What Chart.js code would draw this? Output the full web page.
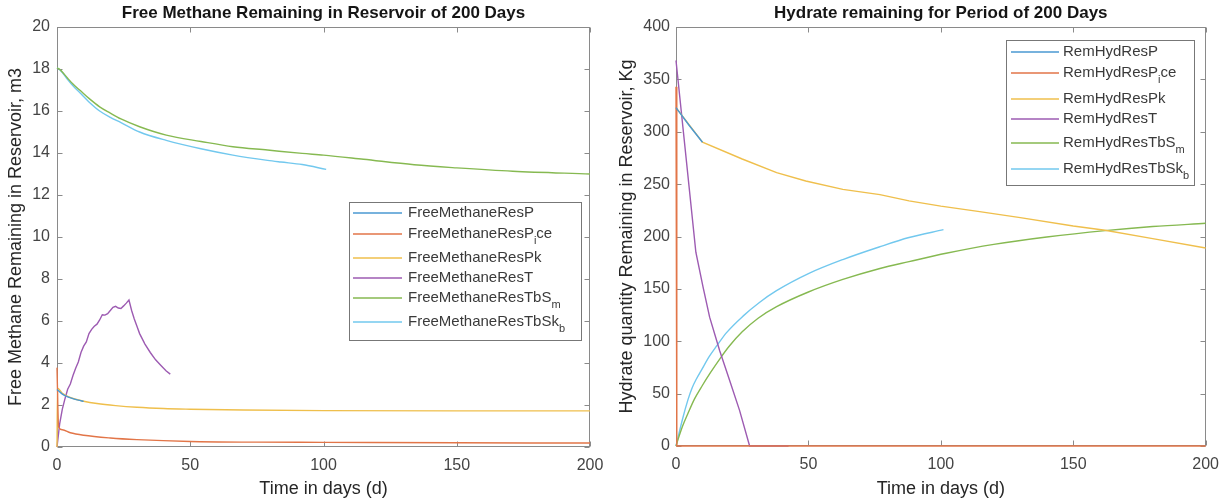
<!DOCTYPE html>
<html>
<head>
<meta charset="utf-8">
<title>Free methane and hydrate remaining over 200 days</title>
<script src="https://cdn.jsdelivr.net/npm/chart.js@4.4.1/dist/chart.umd.min.js"></script>
<style>
  html, body { margin: 0; padding: 0; background: #ffffff; }
  #wrap { position: relative; width: 1228px; height: 500px; overflow: hidden; }
  .pane { position: absolute; top: 0; width: 614px; height: 500px; }
  canvas { display: block; }
</style>
</head>
<body>
<div id="wrap">
  <div class="pane" style="left:0"><canvas id="freeChart" width="614" height="500"></canvas></div>
  <div class="pane" style="left:614px"><canvas id="hydChart" width="614" height="500"></canvas></div>
</div>
<script>
// ---- tick values ----
const dayTicks  = [0, 50, 100, 150, 200];
const freeTicks = [0, 2, 4, 6, 8, 10, 12, 14, 16, 18, 20];
const hydTicks  = [0, 50, 100, 150, 200, 250, 300, 350, 400];

// ---- free methane remaining in reservoir (m3) ----
const freeP_days = [0, 2, 4, 6, 8, 10];
const freeP_vals = [2.74, 2.52, 2.39, 2.3, 2.23, 2.17];

const freePice_days = [0, 0.6, 2, 5, 10, 20, 30, 50, 75, 100, 150, 200];
const freePice_vals = [3.78, 0.95, 0.82, 0.68, 0.56, 0.43, 0.35, 0.26, 0.23, 0.22, 0.2, 0.19];

const freePk_days = [0, 0.2, 2, 4, 6, 10, 15, 22, 30, 40, 50, 70, 100, 150, 200];
const freePk_vals = [0, 2.8, 2.56, 2.41, 2.31, 2.18, 2.07, 1.97, 1.89, 1.83, 1.8, 1.76, 1.73, 1.72, 1.72];

const freeT_days = [0, 1, 2, 3, 4, 5, 6, 7, 8, 9, 10, 11, 12, 13, 14, 15, 16, 17, 18, 19, 20, 21, 22, 23, 24, 25, 26, 27, 28, 29, 30, 31, 33, 35, 37, 39, 41, 42.5];
const freeT_vals = [0, 1.1, 1.8, 2.3, 2.75, 3.0, 3.4, 3.75, 4.05, 4.5, 4.8, 5.0, 5.4, 5.6, 5.75, 5.85, 6.05, 6.3, 6.28, 6.35, 6.5, 6.65, 6.7, 6.62, 6.6, 6.72, 6.85, 7.0, 6.5, 6.1, 5.75, 5.4, 4.9, 4.5, 4.15, 3.88, 3.62, 3.47];

const freeTbSm_days = [0, 1, 2, 4, 6, 8.5, 12, 16, 20, 24, 31, 41, 54, 66, 79, 92, 100, 115, 134, 150, 171, 200];
const freeTbSm_vals = [18.05, 17.98, 17.86, 17.56, 17.28, 17.0, 16.6, 16.2, 15.9, 15.62, 15.25, 14.85, 14.55, 14.3, 14.14, 13.98, 13.9, 13.7, 13.44, 13.29, 13.13, 13.0];

const freeTbSkb_days = [0, 1, 2, 4, 6, 8.5, 12, 16, 20, 24, 31, 41, 54, 66, 79, 84, 92, 101];
const freeTbSkb_vals = [18.05, 17.97, 17.83, 17.5, 17.2, 16.88, 16.43, 16.0, 15.7, 15.45, 15.0, 14.6, 14.2, 13.9, 13.65, 13.57, 13.45, 13.22];

// ---- hydrate remaining in reservoir (kg) ----
const hydP_days = [0, 5, 10];
const hydP_vals = [323, 306, 290];

const hydPice_days = [0, 0.3, 200];
const hydPice_vals = [343, 0, 0];

const hydPk_days = [0, 10, 25, 38, 49, 63, 77, 88, 100, 114, 130, 150, 162, 180, 200];
const hydPk_vals = [323, 290, 274, 261, 253, 245, 240, 234, 229, 224, 218, 210, 206, 198, 189];

const hydT_days = [0, 7.5, 10.2, 12.7, 16.5, 20.2, 24, 27.8, 42.5];
const hydT_vals = [368, 185, 152, 123, 91, 63, 34, 0, 0];

const hydTbSm_days = [0, 1, 2.5, 4.5, 7, 10, 13, 16.5, 20, 25, 31, 38, 50, 63, 77, 88, 102, 120, 140, 162, 180, 200];
const hydTbSm_vals = [0, 8, 19, 31, 45, 58, 70, 83, 95, 109, 122, 133, 147, 159, 169.5, 176, 184, 192.5, 199.5, 205.6, 209.5, 212.6];

const hydTbSkb_days = [0, 2.5, 4.5, 6, 7.7, 9.5, 12.7, 15.5, 19, 25.3, 31.5, 37.8, 50.4, 63, 76.7, 88, 101];
const hydTbSkb_vals = [0, 26, 44, 55, 64, 72, 86, 96, 108, 124, 137, 148, 165, 178, 190, 199, 206.5];

// ---- appearance ----
const FONT = '"Liberation Sans", Arial, Helvetica, sans-serif';
const C = {
  blue:   '#4a98d2',
  orange: '#e27548',
  yellow: '#efbf4c',
  purple: '#9d5bb2',
  green:  '#86b951',
  cyan:   '#72c8ee'
};

function pts(xs, ys) { return xs.map((d, i) => ({ x: d, y: ys[i] })); }

function series(label, xs, ys, color, smooth) {
  return {
    label: label,
    data: pts(xs, ys),
    borderColor: color,
    backgroundColor: color,
    borderWidth: 1.4,
    pointRadius: 0,
    fill: false,
    clip: false,
    cubicInterpolationMode: smooth ? 'monotone' : 'default',
    tension: 0
  };
}

// Axes box with inward ticks on all four sides
const frame = {
  id: 'frame',
  beforeDatasetsDraw(chart) {
    const { ctx, chartArea: a, scales: { x, y } } = chart;
    ctx.save();
    ctx.strokeStyle = '#8a8a8a';
    ctx.lineWidth = 1;
    const L = Math.round(a.left) + 0.5, R = Math.round(a.right) - 0.5;
    const T = Math.round(a.top) + 0.5, B = Math.round(a.bottom) - 0.5;
    ctx.strokeRect(L, T, R - L, B - T);
    ctx.beginPath();
    x.ticks.forEach(t => {
      const px = Math.round(x.getPixelForValue(t.value)) + 0.5;
      ctx.moveTo(px, B); ctx.lineTo(px, B - 5);
      ctx.moveTo(px, T); ctx.lineTo(px, T + 5);
    });
    y.ticks.forEach(t => {
      const py = Math.round(y.getPixelForValue(t.value)) + 0.5;
      ctx.moveTo(L, py); ctx.lineTo(L + 5, py);
      ctx.moveTo(R, py); ctx.lineTo(R - 5, py);
    });
    ctx.stroke();
    ctx.restore();
  }
};

// Boxed legend whose entries may carry a subscript part
const subLegend = {
  id: 'subLegend',
  afterDatasetsDraw(chart, args, opts) {
    if (!opts || !opts.items) return;
    const ctx = chart.ctx;
    ctx.save();
    ctx.fillStyle = '#ffffff';
    ctx.fillRect(opts.left, opts.top, opts.width, opts.height);
    ctx.strokeStyle = '#777777';
    ctx.lineWidth = 1;
    ctx.strokeRect(opts.left + 0.5, opts.top + 0.5, opts.width, opts.height);
    opts.items.forEach((it, i) => {
      const cy = opts.top + opts.rows[i];
      ctx.strokeStyle = chart.data.datasets[i].borderColor;
      ctx.lineWidth = 1.3;
      ctx.beginPath();
      ctx.moveTo(opts.left + opts.lineX0, cy);
      ctx.lineTo(opts.left + opts.lineX1, cy);
      ctx.stroke();
      let tx = opts.left + opts.textX;
      ctx.fillStyle = '#3a3a3a';
      ctx.textBaseline = 'middle';
      ctx.textAlign = 'left';
      it.forEach(([txt, sub]) => {
        ctx.font = sub ? '11px ' + FONT : '15px ' + FONT;
        ctx.fillText(txt, tx, sub ? cy + 7 : cy);
        tx += ctx.measureText(txt).width;
      });
    });
    ctx.restore();
  }
};

function makeChart(id, cfg) {
  return new Chart(document.getElementById(id), {
    type: 'line',
    data: { datasets: cfg.datasets },
    options: {
      responsive: false,
      animation: false,
      devicePixelRatio: 1,
      layout: { padding: { top: 0, right: cfg.padRight, bottom: 0, left: 0 } },
      plugins: {
        legend: { display: false },
        tooltip: { enabled: false },
        title: {
          display: true,
          fullSize: false,
          text: cfg.title,
          color: '#151515',
          font: { family: FONT, size: 17, weight: 'bold' },
          padding: { top: 3, bottom: 3.6 }
        },
        subLegend: cfg.legend
      },
      scales: {
        x: {
          type: 'linear', min: 0, max: 200,
          afterBuildTicks: s => { s.ticks = dayTicks.map(v => ({ value: v })); },
          afterFit: s => { s.height = 500 - cfg.plotBottom; },
          grid: { display: false, drawTicks: false },
          border: { display: false },
          ticks: { color: '#444444', font: { family: FONT, size: 16 }, padding: 9, maxRotation: 0, autoSkip: false },
          title: { display: true, text: 'Time in days (d)', color: '#262626', font: { family: FONT, size: 18 }, padding: { top: 0, bottom: 0.5 } }
        },
        y: {
          type: 'linear', min: 0, max: cfg.ymax,
          afterBuildTicks: s => { s.ticks = cfg.yTicks.map(v => ({ value: v })); },
          afterFit: s => { s.width = cfg.yWidth; },
          grid: { display: false, drawTicks: false },
          border: { display: false },
          ticks: { color: '#444444', font: { family: FONT, size: 16 }, padding: cfg.yTickPad, autoSkip: false },
          title: { display: true, text: cfg.yTitle, color: '#262626', font: { family: FONT, size: 18 }, padding: { top: cfg.yTitlePad, bottom: 0 } }
        }
      }
    },
    plugins: [frame, subLegend]
  });
}

makeChart('freeChart', {
  title: 'Free Methane Remaining in Reservoir of 200 Days',
  yTitle: 'Free Methane Remaining in Reservoir, m3',
  ymax: 20, yTicks: freeTicks,
  yWidth: 57, yTickPad: 7, yTitlePad: 5, padRight: 24, plotBottom: 447,
  datasets: [
    series('FreeMethaneResP', freeP_days, freeP_vals, C.blue, true),
    series('FreeMethaneResPice', freePice_days, freePice_vals, C.orange, true),
    series('FreeMethaneResPk', freePk_days, freePk_vals, C.yellow, true),
    series('FreeMethaneResT', freeT_days, freeT_vals, C.purple, false),
    series('FreeMethaneResTbSm', freeTbSm_days, freeTbSm_vals, C.green, true),
    series('FreeMethaneResTbSkb', freeTbSkb_days, freeTbSkb_vals, C.cyan, true)
  ],
  legend: {
    left: 349, top: 202, width: 232, height: 138,
    lineX0: 4, lineX1: 53, textX: 59,
    rows: [11, 32, 56, 76, 96, 120],
    items: [
      [['FreeMethaneResP', 0]],
      [['FreeMethaneResP', 0], ['i', 1], ['ce', 0]],
      [['FreeMethaneResPk', 0]],
      [['FreeMethaneResT', 0]],
      [['FreeMethaneResTbS', 0], ['m', 1]],
      [['FreeMethaneResTbSk', 0], ['b', 1]]
    ]
  }
});

makeChart('hydChart', {
  title: 'Hydrate remaining for Period of 200 Days',
  yTitle: 'Hydrate quantity Remaining in Reservoir, Kg',
  ymax: 400, yTicks: hydTicks,
  yWidth: 62, yTickPad: 6, yTitlePad: 2.5, padRight: 20, plotBottom: 446,
  datasets: [
    series('RemHydResP', hydP_days, hydP_vals, C.blue, false),
    series('RemHydResPice', hydPice_days, hydPice_vals, C.orange, false),
    series('RemHydResPk', hydPk_days, hydPk_vals, C.yellow, false),
    series('RemHydResT', hydT_days, hydT_vals, C.purple, false),
    series('RemHydResTbSm', hydTbSm_days, hydTbSm_vals, C.green, true),
    series('RemHydResTbSkb', hydTbSkb_days, hydTbSkb_vals, C.cyan, true)
  ],
  legend: {
    left: 392, top: 40, width: 188, height: 145,
    lineX0: 5, lineX1: 53, textX: 57,
    rows: [12, 33, 59, 79, 103, 129],
    items: [
      [['RemHydResP', 0]],
      [['RemHydResP', 0], ['i', 1], ['ce', 0]],
      [['RemHydResPk', 0]],
      [['RemHydResT', 0]],
      [['RemHydResTbS', 0], ['m', 1]],
      [['RemHydResTbSk', 0], ['b', 1]]
    ]
  }
});
</script>
</body>
</html>
